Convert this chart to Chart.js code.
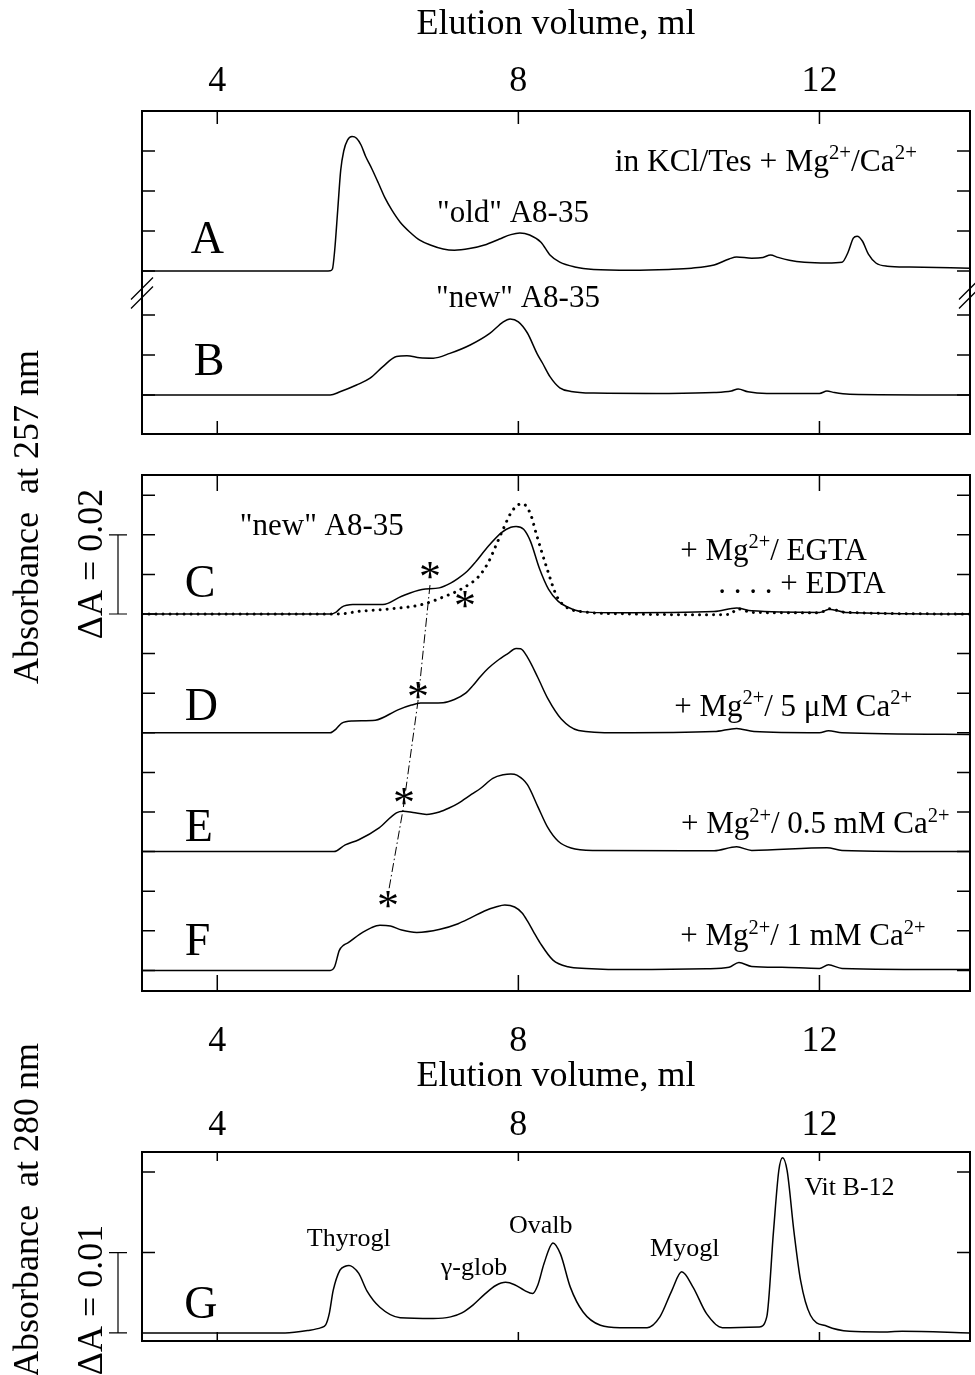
<!DOCTYPE html>
<html>
<head>
<meta charset="utf-8">
<script src="https://cdn.jsdelivr.net/npm/chart.js@4.4.1/dist/chart.umd.min.js"></script>
<style>
  html, body { margin: 0; padding: 0; background: #fff; }
  body { width: 975px; height: 1375px; position: relative; overflow: hidden; }
  canvas { position: absolute; left: 0; }
</style>
</head>
<body>
<canvas id="c1" width="975" height="440" style="top:0px;width:975px;height:440px"></canvas>
<canvas id="c2" width="975" height="800" style="top:300px;width:975px;height:800px"></canvas>
<canvas id="c3" width="975" height="375" style="top:1000px;width:975px;height:375px"></canvas>
<script>
// ================= DATA =================
// Elution volume axis ticks (ml)
const xTicks = [4, 8, 12];

// Panels A / B (absorbance at 257 nm, in units of 0.01 above each trace's own baseline)
const volA = [3.0, 5.45, 5.50, 5.53, 5.56, 5.60, 5.64, 5.68, 5.73, 5.79, 5.85, 5.91, 5.97, 6.05, 6.14, 6.23, 6.32, 6.43, 6.56, 6.69, 6.83, 7.0, 7.15, 7.35, 7.55, 7.75, 7.9, 8.02, 8.15, 8.3, 8.42, 8.55, 8.75, 9.0, 9.5, 10.0, 10.3, 10.6, 10.8, 10.9, 11.1, 11.25, 11.35, 11.45, 11.6, 11.8, 12.1, 12.3, 12.38, 12.45, 12.5, 12.57, 12.65, 12.75, 12.9, 13.2, 14.0];
const absA = [0, 0, 0.005, 0.05, 0.52, 1.52, 2.52, 3.0, 3.27, 3.36, 3.32, 3.15, 2.87, 2.57, 2.2, 1.82, 1.52, 1.22, 0.97, 0.77, 0.65, 0.55, 0.52, 0.56, 0.65, 0.8, 0.91, 0.95, 0.9, 0.72, 0.4, 0.22, 0.1, 0.04, 0.02, 0.04, 0.07, 0.15, 0.3, 0.35, 0.32, 0.34, 0.4, 0.34, 0.27, 0.22, 0.2, 0.22, 0.47, 0.82, 0.87, 0.75, 0.42, 0.2, 0.12, 0.1, 0.07];
const volB = [3.0, 5.45, 5.5, 5.63, 5.85, 6.03, 6.2, 6.38, 6.52, 6.69, 6.87, 7.09, 7.36, 7.62, 7.8, 7.89, 8.0, 8.12, 8.25, 8.32, 8.42, 8.55, 8.7, 9.0, 10.0, 10.6, 10.83, 10.92, 11.05, 11.3, 12.0, 12.1, 12.2, 12.4, 14.0];
const absB = [0, 0, 0.0, 0.08, 0.25, 0.42, 0.71, 0.96, 0.98, 0.93, 0.92, 1.04, 1.25, 1.54, 1.83, 1.9, 1.83, 1.55, 1.03, 0.8, 0.46, 0.18, 0.09, 0.05, 0.04, 0.06, 0.1, 0.15, 0.08, 0.04, 0.04, 0.1, 0.06, 0.02, 0.0];
const yTicksAB = [0, 1, 2, 3.1, 4.1, 5.1, 6.1];

// Panels C–F
const volC = [3.0, 5.5, 5.58, 5.65, 5.72, 5.8, 6.2, 6.45, 6.72, 6.95, 7.1, 7.2, 7.32, 7.43, 7.6, 7.78, 7.9, 7.97, 8.07, 8.16, 8.28, 8.4, 8.53, 8.66, 8.84, 9.3, 10.6, 10.9, 11.1, 12.0, 12.13, 12.35, 14.0];
const absC = [0, 0, 0.05, 0.17, 0.22, 0.24, 0.24, 0.45, 0.62, 0.66, 0.78, 0.9, 1.08, 1.31, 1.71, 2.06, 2.19, 2.21, 2.14, 1.84, 1.15, 0.63, 0.32, 0.17, 0.06, 0.03, 0.06, 0.15, 0.08, 0.04, 0.12, 0.04, 0.0];
const volCedta = [3.0, 5.6, 5.9, 6.3, 6.72, 7.03, 7.25, 7.47, 7.6, 7.7, 7.8, 7.9, 8.0, 8.06, 8.16, 8.24, 8.38, 8.51, 8.64, 8.84, 9.5, 10.5, 10.8, 10.92, 11.1, 12.0, 12.13, 12.35, 14.0];
const absCedta = [0, 0, 0.07, 0.13, 0.24, 0.45, 0.64, 0.94, 1.3, 1.72, 2.15, 2.55, 2.76, 2.78, 2.53, 2.01, 1.15, 0.45, 0.17, 0.06, 0.0, -0.02, -0.01, 0.13, 0.04, 0.03, 0.13, 0.04, 0.0];
const volD = [3.0, 5.5, 5.58, 5.65, 5.8, 6.1, 6.4, 6.58, 6.7, 7.0, 7.15, 7.3, 7.4, 7.5, 7.6, 7.72, 7.86, 7.97, 8.03, 8.12, 8.26, 8.39, 8.57, 8.8, 9.3, 10.6, 10.9, 11.13, 12.0, 12.12, 12.3, 14.0];
const absD = [0, 0, 0.1, 0.24, 0.3, 0.32, 0.58, 0.7, 0.75, 0.76, 0.84, 1.0, 1.2, 1.43, 1.63, 1.82, 2.0, 2.13, 2.12, 1.91, 1.39, 0.87, 0.35, 0.06, 0.0, 0.03, 0.11, 0.03, 0.0, 0.05, 0.0, -0.04];
const volE = [3.0, 5.55, 5.7, 5.88, 6.15, 6.38, 6.47, 6.6, 6.78, 6.95, 7.08, 7.2, 7.38, 7.5, 7.66, 7.8, 7.9, 7.98, 8.12, 8.26, 8.39, 8.53, 8.7, 9.0, 10.6, 10.9, 11.1, 12.1, 12.3, 14.0];
const absE = [0, 0, 0.17, 0.3, 0.6, 0.98, 1.02, 0.99, 0.94, 1.0, 1.1, 1.22, 1.45, 1.6, 1.85, 1.94, 1.96, 1.93, 1.69, 1.13, 0.61, 0.26, 0.09, 0.03, 0.02, 0.12, 0.03, 0.1, 0.03, 0.0];
const volF = [3.0, 5.5, 5.56, 5.62, 5.68, 5.74, 5.89, 6.05, 6.16, 6.3, 6.45, 6.65, 6.96, 7.2, 7.36, 7.55, 7.7, 7.82, 7.95, 8.05, 8.12, 8.2, 8.29, 8.46, 8.66, 8.9, 9.5, 10.5, 10.8, 10.93, 11.1, 11.5, 12.0, 12.12, 12.3, 14.0];
const absF = [0, 0, 0.1, 0.5, 0.64, 0.7, 0.91, 1.08, 1.14, 1.12, 1.02, 0.96, 1.04, 1.18, 1.32, 1.5, 1.6, 1.65, 1.6, 1.45, 1.25, 0.98, 0.69, 0.26, 0.09, 0.05, 0.02, 0.04, 0.08, 0.2, 0.1, 0.08, 0.05, 0.14, 0.05, 0.02];
const yTicksCF = [0, 1, 2, 3, 4, 5, 6, 7, 8, 9, 10, 11, 12];
// asterisks and the dash-dot shoulder line (panel C–F units)
const starVol = [6.826, 7.29, 6.666, 6.48, 6.267];
const starAbs = [10.09, 9.36, 7.08, 4.38, 1.78];
const shiftVol = [6.826, 6.666, 6.467, 6.28];
const shiftAbs = [9.73, 6.79, 4.05, 2.04];

// Panel G (absorbance at 280 nm, units of 0.01)
const volG = [3.0, 4.9, 5.2, 5.38, 5.44, 5.49, 5.54, 5.63, 5.7, 5.75, 5.8, 5.88, 5.99, 6.16, 6.43, 6.87, 7.1, 7.25, 7.4, 7.55, 7.7, 7.83, 7.95, 8.08, 8.19, 8.26, 8.34, 8.46, 8.56, 8.69, 8.86, 9.09, 9.35, 9.71, 9.88, 10.04, 10.17, 10.32, 10.5, 10.71, 11.2, 11.3, 11.39, 11.46, 11.51, 11.57, 11.66, 11.75, 11.88, 12.1, 12.4, 12.8, 13.1, 14.0];
const absG = [0, 0, 0.03, 0.066, 0.1, 0.25, 0.53, 0.78, 0.83, 0.84, 0.82, 0.74, 0.52, 0.32, 0.19, 0.18, 0.2, 0.25, 0.35, 0.48, 0.59, 0.63, 0.6, 0.53, 0.49, 0.6, 0.86, 1.12, 0.98, 0.57, 0.26, 0.095, 0.066, 0.066, 0.2, 0.53, 0.76, 0.57, 0.24, 0.066, 0.075, 0.2, 1.27, 2.02, 2.18, 2.02, 1.27, 0.65, 0.22, 0.083, 0.02, 0.012, 0.02, 0.0];
const yTicksG = [1, 2];

// ================= RENDERING =================
const FAMILY = '"Liberation Serif", "Times New Roman", serif';

function series(vol, abs, offset) {
  return vol.map((v, i) => ({ x: v, y: abs[i] + offset }));
}
const solid = { borderColor: '#000', borderWidth: 1.5, pointRadius: 0, fill: false, cubicInterpolationMode: 'monotone' };

function richParts(s) {
  const out = []; const re = /\^\{([^}]*)\}/g; let last = 0, m;
  while ((m = re.exec(s))) {
    if (m.index > last) out.push({ t: s.slice(last, m.index) });
    out.push({ t: m[1], sup: true });
    last = re.lastIndex;
  }
  if (last < s.length) out.push({ t: s.slice(last) });
  return out;
}
function drawRich(ctx, s, x, y, size) {
  ctx.textAlign = 'left'; ctx.textBaseline = 'alphabetic';
  for (const p of richParts(s)) {
    const fs = p.sup ? size * 0.66 : size;
    ctx.font = fs + 'px ' + FAMILY;
    ctx.fillText(p.t, x, p.sup ? y - size * 0.37 : y);
    x += ctx.measureText(p.t).width;
  }
}

const decorCfg = {};
const decor = {
  id: 'decor',
  afterDatasetsDraw(chart) {
    const o = decorCfg[chart.canvas.id];
    const { ctx, chartArea: a } = chart;
    const xs = chart.scales.x, ys = chart.scales.y;
    ctx.save();
    ctx.strokeStyle = '#000'; ctx.fillStyle = '#000';
    ctx.lineWidth = 2;
    ctx.strokeRect(a.left, a.top, a.right - a.left, a.bottom - a.top);
    ctx.lineWidth = 1.5;
    ctx.beginPath();
    for (const v of xTicks) {
      const px = xs.getPixelForValue(v);
      ctx.moveTo(px, a.top); ctx.lineTo(px, a.top + o.xTick);
      ctx.moveTo(px, a.bottom); ctx.lineTo(px, a.bottom - o.xTick);
    }
    for (const v of o.yTicks) {
      const py = ys.getPixelForValue(v);
      ctx.moveTo(a.left, py); ctx.lineTo(a.left + o.yTick, py);
      ctx.moveTo(a.right, py); ctx.lineTo(a.right - o.yTick, py);
    }
    ctx.stroke();
    // axis break marks
    if (o.breakAt !== undefined) {
      const py = ys.getPixelForValue(o.breakAt);
      ctx.lineWidth = 1.3;
      ctx.beginPath();
      for (const bx of [a.left, a.right]) {
        for (const d of [-4.5, 4.5]) {
          ctx.moveTo(bx - 11, py + d + 11); ctx.lineTo(bx + 11, py + d - 11);
        }
      }
      ctx.stroke();
    }
    // scale bar
    if (o.bar) {
      const y0 = ys.getPixelForValue(o.bar.from), y1 = ys.getPixelForValue(o.bar.to);
      ctx.lineWidth = 1.2;
      ctx.beginPath();
      ctx.moveTo(o.bar.x, y0); ctx.lineTo(o.bar.x, y1);
      ctx.moveTo(o.bar.x - 9, y0); ctx.lineTo(o.bar.x + 9, y0);
      ctx.moveTo(o.bar.x - 9, y1); ctx.lineTo(o.bar.x + 9, y1);
      ctx.stroke();
    }
    // text labels anchored in data coordinates
    for (const L of o.labels) {
      drawRich(ctx, L.text, xs.getPixelForValue(L.x), ys.getPixelForValue(L.y), L.size);
    }
    // asterisks
    if (o.stars) {
      ctx.font = '44px ' + FAMILY; ctx.textAlign = 'left'; ctx.textBaseline = 'alphabetic';
      const m = ctx.measureText('*');
      for (let i = 0; i < o.stars.vol.length; i++) {
        const cx = xs.getPixelForValue(o.stars.vol[i]), cy = ys.getPixelForValue(o.stars.abs[i]);
        const bx = cx - (m.actualBoundingBoxRight - m.actualBoundingBoxLeft) / 2;
        const by = cy + (m.actualBoundingBoxAscent - m.actualBoundingBoxDescent) / 2;
        ctx.fillText('*', bx, by);
      }
    }
    // rotated side titles (pixel positions on this canvas)
    for (const T of (o.sideTitles || [])) {
      ctx.save();
      ctx.translate(T.x, T.cy);
      ctx.rotate(-Math.PI / 2);
      ctx.font = T.size + 'px ' + FAMILY; ctx.textAlign = 'center'; ctx.textBaseline = 'alphabetic';
      ctx.fillText(T.text, 0, 0);
      ctx.restore();
    }
    ctx.restore();
  }
};

function xAxis(position, height, tickPad, title) {
  const cfg = {
    type: 'linear', position, min: 3, max: 14,
    afterBuildTicks: s => { s.ticks = xTicks.map(v => ({ value: v })); },
    afterFit: s => { s.height = height; },
    grid: { display: false, drawTicks: false, tickLength: 0 },
    border: { display: false },
    ticks: { font: { family: FAMILY, size: 36 }, color: '#000', padding: tickPad, maxRotation: 0, autoSkip: false },
  };
  if (title) cfg.title = Object.assign({ display: true, text: 'Elution volume, ml', color: '#000', font: { family: FAMILY, size: 36 } }, title);
  return cfg;
}

function makeChart(id, datasets, xcfg, ymin, ymax, pad) {
  return new Chart(document.getElementById(id), {
    type: 'line',
    data: { datasets },
    options: {
      responsive: false, animation: false, devicePixelRatio: 1, events: [],
      layout: { padding: pad },
      plugins: { legend: { display: false }, tooltip: { enabled: false } },
      scales: { x: xcfg, y: { type: 'linear', display: false, min: ymin, max: ymax } }
    },
    plugins: [decor]
  });
}

// ---- Panel 1: A & B ----
decorCfg.c1 = {
  xTick: 13, yTick: 13, yTicks: yTicksAB, breakAt: 2.55,
  labels: [
    { text: 'A', x: 3.648, y: 3.55, size: 46 },
    { text: 'B', x: 3.688, y: 0.5, size: 46 },
    { text: '"old" A8-35', x: 6.919, y: 4.325, size: 31 },
    { text: '"new" A8-35', x: 6.906, y: 2.2, size: 31 },
    { text: 'in KCl/Tes + Mg^{2+}/Ca^{2+}', x: 9.28, y: 5.6, size: 31.5 },
  ]
};
makeChart('c1', [
  Object.assign({ data: series(volA, absA, 3.1) }, solid),
  Object.assign({ data: series(volB, absB, 0) }, solid),
], xAxis('top', 111, 8, { padding: { top: 3, bottom: 0 } }), -0.975, 7.1, { left: 142, right: 5, top: 0, bottom: 6 });

// ---- Panel 2: C–F ----
decorCfg.c2 = {
  xTick: 16, yTick: 13, yTicks: yTicksCF,
  bar: { x: 118, from: 9, to: 11 },
  labels: [
    { text: '"new" A8-35', x: 4.30, y: 11.0, size: 31 },
    { text: 'C', x: 3.568, y: 9.43, size: 46 },
    { text: 'D', x: 3.568, y: 6.33, size: 46 },
    { text: 'E', x: 3.568, y: 3.27, size: 46 },
    { text: 'F', x: 3.568, y: 0.39, size: 46 },
    { text: '+ Mg^{2+}/ EGTA', x: 10.15, y: 10.37, size: 31 },
    { text: '. . . . + EDTA', x: 10.655, y: 9.53, size: 31 },
    { text: '+ Mg^{2+}/ 5 μM Ca^{2+}', x: 10.07, y: 6.43, size: 31 },
    { text: '+ Mg^{2+}/ 0.5 mM Ca^{2+}', x: 10.16, y: 3.47, size: 31 },
    { text: '+ Mg^{2+}/ 1 mM Ca^{2+}', x: 10.15, y: 0.64, size: 31 },
  ],
  stars: { vol: starVol, abs: starAbs },
  sideTitles: [
    { text: 'Absorbance  at 257 nm', x: 38, cy: 217, size: 36 },
    { text: 'ΔA = 0.02', x: 102, cy: 264, size: 36 },
  ]
};
makeChart('c2', [
  Object.assign({ data: series(volF, absF, 0) }, solid),
  Object.assign({ data: series(volE, absE, 3) }, solid),
  Object.assign({ data: series(volD, absD, 6) }, solid),
  Object.assign({ data: series(volC, absC, 9) }, solid),
  Object.assign({ data: series(volCedta, absCedta, 9) }, solid, { borderWidth: 3, borderDash: [0.01, 7], borderCapStyle: 'round' }),
  { data: series(shiftVol, shiftAbs, 0), borderColor: '#000', borderWidth: 1, pointRadius: 0, fill: false, tension: 0, borderDash: [9, 3, 1.5, 3] },
], xAxis('bottom', 109, 29, { padding: { top: 0, bottom: 2 } }), -0.52, 12.51, { left: 142, right: 5, top: 175, bottom: 0 });

// ---- Panel 3: G ----
decorCfg.c3 = {
  xTick: 9, yTick: 13, yTicks: yTicksG,
  bar: { x: 118, from: 0, to: 1 },
  labels: [
    { text: 'G', x: 3.561, y: 0.186, size: 46 },
    { text: 'Thyrogl', x: 5.19, y: 1.08, size: 26 },
    { text: 'γ-glob', x: 6.97, y: 0.72, size: 26 },
    { text: 'Ovalb', x: 7.876, y: 1.24, size: 26 },
    { text: 'Myogl', x: 9.75, y: 0.957, size: 26 },
    { text: 'Vit B-12', x: 11.80, y: 1.714, size: 26 },
  ],
  sideTitles: [
    { text: 'Absorbance  at 280 nm', x: 38, cy: 210, size: 36 },
    { text: 'ΔA = 0.01', x: 102, cy: 300, size: 36 },
  ]
};
makeChart('c3', [
  Object.assign({ data: series(volG, absG, 0) }, solid),
], xAxis('top', 152, 5, null), -0.1, 2.25, { left: 142, right: 5, top: 0, bottom: 34 });
</script>
</body>
</html>
